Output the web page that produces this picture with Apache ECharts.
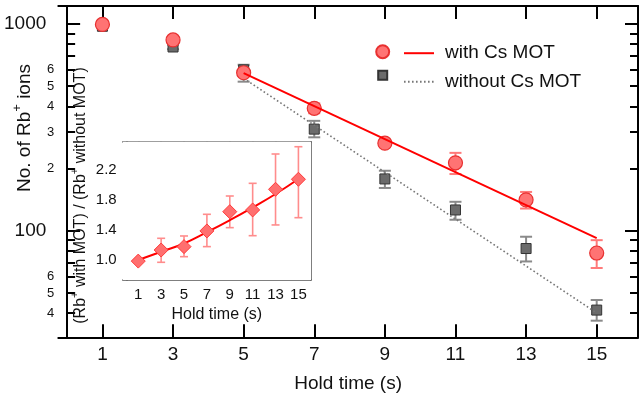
<!DOCTYPE html>
<html><head><meta charset="utf-8">
<script src="https://cdn.jsdelivr.net/npm/echarts@6/dist/echarts.min.js"></script>
<style>html,body{margin:0;padding:0;background:#fff}#c{width:639px;height:396px}</style>
</head><body><div id="c"></div>
<script>
// ---- data ----
const holdTime = [1, 3, 5, 7, 9, 11, 13, 15];
const withCs = [995, 837, 581, 391, 265, 213, 141, 78];
const withCsLow = [975, 815, 560, 370, 255, 188, 128, 66];
const withCsHigh = [1015, 860, 600, 413, 275, 238, 154, 90];
const withoutCs = [975, 774, 600, 310, 178, 126, 82, 41.3];
const withoutCsLow = [955, 755, 526, 283, 161, 113, 71, 36.7];
const withoutCsHigh = [995, 795, 635, 340, 195, 138, 93.5, 46.2];
const fitTime = [5, 15];
const withCsFit = [578, 92];
const withoutCsFit = [546, 40];
const ratio = [0.985, 1.133, 1.178, 1.387, 1.644, 1.667, 1.942, 2.076];
const ratioLow = [0.96, 0.969, 1.044, 1.178, 1.431, 1.324, 1.467, 1.564];
const ratioHigh = [1.01, 1.289, 1.32, 1.609, 1.853, 2.022, 2.413, 2.51];
const ratioFit = [1.0, 1.11, 1.22, 1.37, 1.53, 1.70, 1.88, 2.08];
const xTicks = [1, 3, 5, 7, 9, 11, 13, 15];
const yMajor = [100, 1000];
const yMinor = [40, 50, 60, 70, 80, 90, 200, 300, 400, 500, 600, 700, 800, 900];
const yMinorLabels = [40, 50, 60, 200, 300, 400, 500, 600];
const ratioLabels = [1.0, 1.4, 1.8, 2.2];
const ratioMinor = [1.2, 1.6, 2.0, 2.4];
const ratioRight = [1.0, 1.2, 1.4, 1.6, 1.8, 2.0, 2.2, 2.4];

const FONT = 'Liberation Sans, Arial, sans-serif';
const zip = (a, b) => a.map((v, i) => [v, b[i]]);
const zip3 = (a, b, c) => a.map((v, i) => [v, b[i], c[i]]);

function errRender(color, cap, width) {
  return function (params, api) {
    const x = api.value(0), lo = api.value(1), hi = api.value(2);
    const pLo = api.coord([x, lo]), pHi = api.coord([x, hi]);
    const style = { stroke: color, lineWidth: width };
    return { type: 'group', children: [
      { type: 'line', shape: { x1: pLo[0], y1: pLo[1], x2: pHi[0], y2: pHi[1] }, style },
      { type: 'line', shape: { x1: pLo[0] - cap / 2, y1: pLo[1], x2: pLo[0] + cap / 2, y2: pLo[1] }, style },
      { type: 'line', shape: { x1: pHi[0] - cap / 2, y1: pHi[1], x2: pHi[0] + cap / 2, y2: pHi[1] }, style }
    ]};
  };
}

const mainX = { min: -0.25, max: 16.17 };
const mainY = { min: 30.5, max: 1222 };
const insetX = { min: -0.36, max: 16.1 };
const insetY = { min: 0.733, max: 2.577 };
const blackLine = { show: true, lineStyle: { color: '#000', width: 2 } };
const grayLine = { show: true, lineStyle: { color: '#555', width: 1.5 } };

const chart = echarts.init(document.getElementById('c'));
chart.setOption({
  animation: false,
  backgroundColor: '#fff',
  textStyle: { fontFamily: FONT },
  grid: [
    { left: 58.3, top: 6, right: 1, bottom: 58.7, outerBoundsMode: 'none', containLabel: false },
    { left: 122.7, top: 141.7, right: 328, bottom: 116, show: true, backgroundColor: '#fff', borderWidth: 0, z: 5,
      outerBoundsMode: 'none', containLabel: false }
  ],
  legend: [
    { data: ['with Cs MOT', 'without Cs MOT'], orient: 'vertical', left: 403, top: 43.7, padding: 0,
      itemWidth: 30, itemHeight: 14, itemGap: 9.6, selectedMode: false,
      itemStyle: { color: 'rgba(0,0,0,0)', borderWidth: 0, opacity: 0 },
      textStyle: { fontSize: 19, color: '#111', fontFamily: FONT, padding: [0, 0, 0, 6] } },
    { data: ['with Cs MOT data'], left: 375.2, top: 44.2, padding: 0, itemWidth: 13, itemHeight: 13, icon: 'circle',
      formatter: () => '', selectedMode: false },
    { data: ['without Cs MOT data'], left: 377.2, top: 69.8, padding: 0, itemWidth: 9, itemHeight: 9, icon: 'rect',
      formatter: () => '', selectedMode: false }
  ],
  xAxis: [
    { type: 'value', gridIndex: 0, position: 'bottom', ...mainX,
      axisLine: blackLine, splitLine: { show: false },
      axisTick: { inside: true, length: 13, customValues: xTicks, lineStyle: { color: '#000', width: 2 } },
      axisLabel: { customValues: xTicks, fontSize: 19, color: '#111', margin: 8, fontFamily: FONT },
      name: 'Hold time (s)', nameLocation: 'middle', nameGap: 37, nameMoveOverlap: false,
      nameTextStyle: { fontSize: 19, color: '#111', fontFamily: FONT } },
    { type: 'value', gridIndex: 0, position: 'top', ...mainX,
      axisLine: blackLine, splitLine: { show: false },
      axisTick: { inside: true, length: 13, customValues: xTicks, lineStyle: { color: '#000', width: 2 } },
      axisLabel: { show: false } },
    { type: 'value', gridIndex: 1, position: 'bottom', ...insetX,
      axisLine: grayLine, splitLine: { show: false },
      axisTick: { inside: true, length: 9, customValues: xTicks, lineStyle: { color: '#555', width: 1.5 } },
      axisLabel: { customValues: xTicks, fontSize: 15, color: '#111', margin: 7, fontFamily: FONT },
      name: 'Hold time (s)', nameLocation: 'middle', nameGap: 27, nameMoveOverlap: false,
      nameTextStyle: { fontSize: 16, color: '#111', fontFamily: FONT } },
    { type: 'value', gridIndex: 1, position: 'top', ...insetX,
      axisLine: grayLine, splitLine: { show: false },
      axisTick: { inside: true, length: 8, customValues: xTicks, lineStyle: { color: '#555', width: 1.5 } },
      axisLabel: { show: false } }
  ],
  yAxis: [
    { type: 'log', logBase: 10, gridIndex: 0, position: 'left', ...mainY,
      axisLine: blackLine, splitLine: { show: false },
      axisTick: { inside: true, length: 13, customValues: yMajor, lineStyle: { color: '#000', width: 2 } },
      axisLabel: { customValues: yMajor, fontSize: 19, color: '#111', margin: 12, fontFamily: FONT,
        formatter: v => String(Math.round(v)) } },
    { type: 'log', logBase: 10, gridIndex: 0, position: 'left', ...mainY,
      axisLine: { show: false }, splitLine: { show: false },
      axisTick: { inside: true, length: 8, customValues: yMinor, lineStyle: { color: '#000', width: 2 } },
      axisLabel: { customValues: yMinorLabels, fontSize: 13, color: '#111', margin: 4, fontFamily: FONT,
        formatter: v => String(Math.round(v)).charAt(0) } },
    { type: 'log', logBase: 10, gridIndex: 0, position: 'right', ...mainY,
      axisLine: blackLine, splitLine: { show: false },
      axisTick: { inside: true, length: 13, customValues: yMajor, lineStyle: { color: '#000', width: 2 } },
      axisLabel: { show: false } },
    { type: 'log', logBase: 10, gridIndex: 0, position: 'right', ...mainY,
      axisLine: { show: false }, splitLine: { show: false },
      axisTick: { inside: true, length: 8, customValues: yMinor, lineStyle: { color: '#000', width: 2 } },
      axisLabel: { show: false } },
    { type: 'value', gridIndex: 1, position: 'left', ...insetY,
      axisLine: grayLine, splitLine: { show: false },
      axisTick: { inside: true, length: 10, customValues: ratioLabels, lineStyle: { color: '#555', width: 1.5 } },
      axisLabel: { customValues: ratioLabels, fontSize: 15, color: '#111', margin: 6, fontFamily: FONT,
        formatter: v => v.toFixed(1) } },
    { type: 'value', gridIndex: 1, position: 'left', ...insetY,
      axisLine: { show: false }, splitLine: { show: false },
      axisTick: { inside: true, length: 7, customValues: ratioMinor, lineStyle: { color: '#555', width: 1.5 } },
      axisLabel: { show: false } },
    { type: 'value', gridIndex: 1, position: 'right', ...insetY,
      axisLine: grayLine, splitLine: { show: false },
      axisTick: { inside: true, length: 8, customValues: ratioRight, lineStyle: { color: '#555', width: 1.5 } },
      axisLabel: { show: false } }
  ],
  graphic: [
    { type: 'text', x: 25, y: 128, rotation: Math.PI / 2, z: 100,
      style: { text: '{n|No. of Rb}{s|+}{n| ions}', align: 'center', verticalAlign: 'middle',
        rich: { n: { fontSize: 19, fontFamily: FONT, fill: '#111' },
                s: { fontSize: 13, fontFamily: FONT, fill: '#111', padding: [0, 0, 15, 0] } } } },
    { type: 'text', x: 81, y: 195.5, rotation: Math.PI / 2, z: 100,
      style: { text: '{n|(Rb}{s|+}{n| with MOT) / (Rb}{s|+}{n| without MOT)}', align: 'center', verticalAlign: 'middle',
        rich: { n: { fontSize: 16, fontFamily: FONT, fill: '#111' },
                s: { fontSize: 11, fontFamily: FONT, fill: '#111', padding: [0, 0, 12, 0] } } } }
  ],
  series: [
    { type: 'custom', xAxisIndex: 0, yAxisIndex: 0, renderItem: errRender('#8a8a8a', 12, 2),
      data: zip3(holdTime, withoutCsLow, withoutCsHigh), encode: { x: 0, y: [1, 2] }, z: 2 },
    { type: 'scatter', name: 'without Cs MOT data', xAxisIndex: 0, yAxisIndex: 0,
      symbol: 'rect', symbolSize: 10, data: zip(holdTime, withoutCs),
      itemStyle: { color: '#6b6b6b', borderColor: '#333', borderWidth: 1, opacity: 1 }, z: 3 },
    { type: 'line', name: 'without Cs MOT', xAxisIndex: 0, yAxisIndex: 0, symbol: 'none',
      data: zip(fitTime, withoutCsFit), lineStyle: { color: '#777', width: 1.6, type: [1.6, 2.4] },
      itemStyle: { color: '#777' }, z: 4 },
    { type: 'custom', xAxisIndex: 0, yAxisIndex: 0, renderItem: errRender('#ff7a7a', 12, 2),
      data: zip3(holdTime, withCsLow, withCsHigh), encode: { x: 0, y: [1, 2] }, z: 5 },
    { type: 'scatter', name: 'with Cs MOT data', xAxisIndex: 0, yAxisIndex: 0,
      symbol: 'circle', symbolSize: 14, data: zip(holdTime, withCs),
      itemStyle: { color: '#ff7373', borderColor: '#e83030', borderWidth: 1.2, opacity: 1 }, z: 6 },
    { type: 'line', name: 'with Cs MOT', xAxisIndex: 0, yAxisIndex: 0, symbol: 'none',
      data: zip(fitTime, withCsFit), lineStyle: { color: '#ff0000', width: 2 },
      itemStyle: { color: '#ff0000' }, z: 7 },
    { type: 'custom', xAxisIndex: 2, yAxisIndex: 4, renderItem: errRender('#ff8c8c', 8, 1.6),
      data: zip3(holdTime, ratioLow, ratioHigh), encode: { x: 0, y: [1, 2] }, z: 10 },
    { type: 'line', xAxisIndex: 2, yAxisIndex: 4, symbol: 'none', smooth: true,
      data: zip(holdTime, ratioFit), lineStyle: { color: '#ff0000', width: 2 }, z: 11 },
    { type: 'scatter', xAxisIndex: 2, yAxisIndex: 4, symbol: 'diamond', symbolSize: [14, 14],
      data: zip(holdTime, ratio),
      itemStyle: { color: '#ff6f6f', borderColor: '#ff3b3b', borderWidth: 1, opacity: 1 }, z: 12 }
  ]
});
</script></body></html>
